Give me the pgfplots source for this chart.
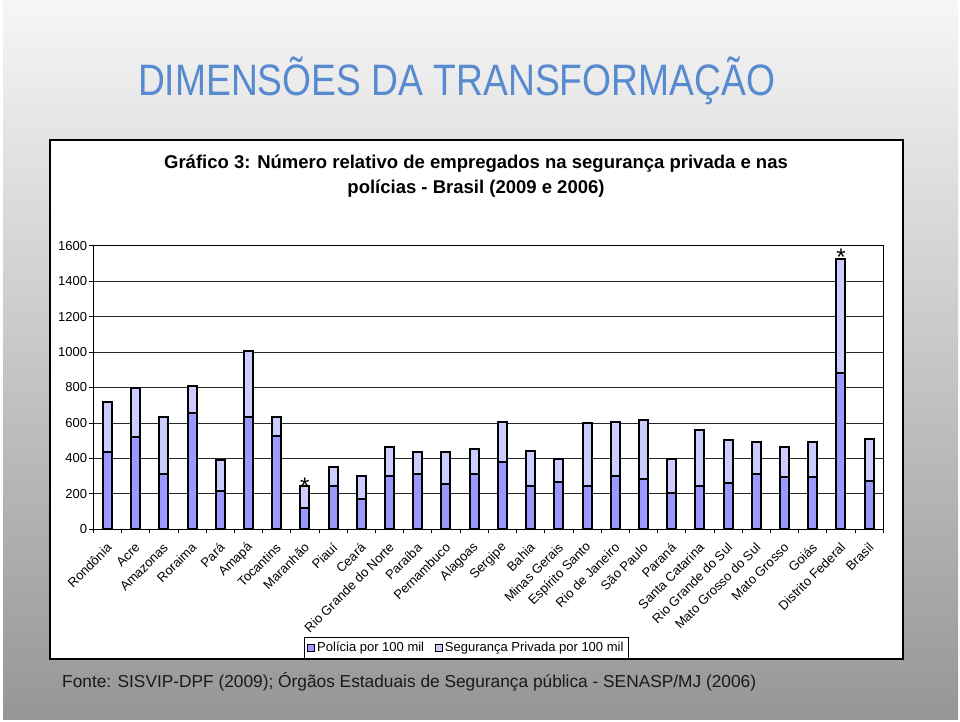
\documentclass[border=0pt]{standalone}
\usepackage{fontspec}
\setmainfont{Liberation Sans}
\usepackage{pgfplots}
\pgfplotsset{compat=1.18}
\usepackage{pgfplotstable}
\definecolor{police}{HTML}{9999FF}
\definecolor{priv}{HTML}{CCCCFF}
\definecolor{titleblue}{RGB}{88,138,208}
\definecolor{bgtop}{RGB}{246,246,246}
\definecolor{bgbot}{RGB}{150,150,150}

\pgfplotstableread{
x pol priv
0 437 283
1 520 277
2 313 321
3 655 151
4 216 176
5 634 372
6 529 105
7 122 124
8 246 104
9 170 133
10 303 160
11 312 125
12 256 181
13 312 142
14 378 228
15 246 198
16 265 132
17 246 351
18 303 303
19 284 332
20 207 190
21 245 314
22 263 240
23 313 180
24 294 171
25 294 199
26 881 644
27 275 237
}\data

\begin{document}
\begin{tikzpicture}[x=1pt,y=1pt]
\useasboundingbox (0,0) rectangle (960,722);
\fill[white] (0,0) rectangle (960,722);
\shade[top color=bgtop, bottom color=bgbot] (3,2) rectangle (958,722);
% chart frame
\draw[fill=white, line width=1.4pt] (50,63) rectangle (903,582);
% slide title
\node[anchor=base, text=titleblue, inner sep=0pt] at (456.5,626)
  {\scalebox{0.846}[1]{\fontsize{44}{44}\selectfont DIMENSÕES DA TRANSFORMAÇÃO}};
% chart title
\node[anchor=base, inner sep=0pt, font=\fontsize{18.5}{18.5}\selectfont\bfseries] at (476,553)
  {Gráfico 3: Número relativo de empregados na segurança privada e nas};
\node[anchor=base, inner sep=0pt, font=\fontsize{18.5}{18.5}\selectfont\bfseries] at (476,528)
  {polícias - Brasil (2009 e 2006)};
% source
\node[anchor=base west, inner sep=0pt, text=black!90, font=\fontsize{17.3}{17.3}\selectfont] at (62,34)
  {Fonte: SISVIP-DPF (2009); Órgãos Estaduais de Segurança pública - SENASP/MJ (2006)};

\begin{axis}[
  at={(93.3pt,192.7pt)}, anchor=south west,
  scale only axis, width=790pt, height=283.6pt,
  ybar stacked, bar width=9pt,
  xmin=-0.5, xmax=27.5, ymin=0, ymax=1600,
  ytick={0,200,...,1600},
  ymajorgrids, grid style={black!85, line width=0.8pt},
  xtick={0,...,27},
  xticklabels={Rondônia, Acre, Amazonas, Roraima, Pará, Amapá, Tocantins, Maranhão, Piauí, Ceará, Rio Grande do Norte, Paraíba, Pernambuco, Alagoas, Sergipe, Bahia, Minas Gerais, Espírito Santo, Rio de Janeiro, São Paulo, Paraná, Santa Catarina, Rio Grande do Sul, Mato Grosso do Sul, Mato Grosso, Goiás, Distrito Federal, Brasil},
  major x tick style={draw=none},
  minor xtick={-0.5,0.5,...,27.5},
  tick align=outside, tick pos=left,
  major tick length=4pt, minor tick length=4pt,
  tick style={black, line width=0.8pt},
  axis line style={black, line width=1.2pt},
  /pgf/number format/.cd, assume math mode=true, set thousands separator={}, /pgfplots/.cd,
  yticklabel style={font=\fontsize{13}{13}\selectfont, inner sep=2pt},
  xticklabel style={font=\fontsize{13}{13}\selectfont, inner sep=0pt, yshift=-12pt, xshift=2pt, rotate=45, anchor=east},
  legend columns=2,
  legend style={at={(0.2666,-0.378)}, anchor=north west, draw=black, line width=1pt,
    font=\fontsize{13}{13}\selectfont, inner xsep=3pt, inner ysep=3pt,
    /tikz/every even column/.append style={column sep=9pt}},
  legend image code/.code={\draw[#1, draw=black, line width=0.8pt] (0pt,-3.5pt) rectangle (7pt,3.5pt);},
]
\addplot[fill=police, draw=black, line width=2pt] table[x=x, y=pol] {\data};
\addplot[fill=priv, draw=black, line width=2pt] table[x=x, y=priv] {\data};
\legend{Polícia por 100 mil, Segurança Privada por 100 mil}
\node[anchor=base, inner sep=0pt, font=\fontsize{24}{24}\selectfont] at (axis cs:7,199) {*};
\node[anchor=base, inner sep=0pt, font=\fontsize{24}{24}\selectfont] at (axis cs:26,1491) {*};
\end{axis}
\end{tikzpicture}
\end{document}
